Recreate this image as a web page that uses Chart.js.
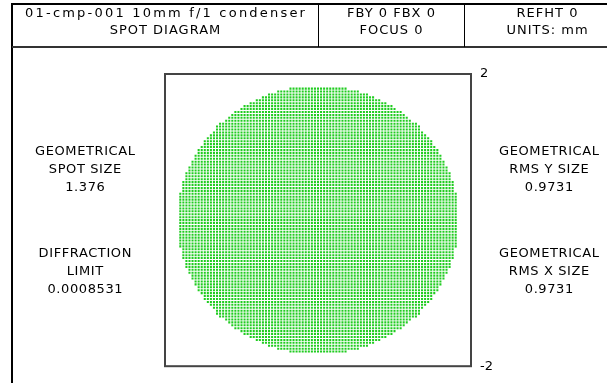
<!DOCTYPE html>
<html>
<head>
<meta charset="utf-8">
<script src="https://cdn.jsdelivr.net/npm/chart.js@4.4.1/dist/chart.umd.min.js"></script>
<style>
  html, body { margin: 0; padding: 0; background: #fff; }
  canvas { display: block; }
</style>
</head>
<body>
<canvas id="spot" width="607" height="383"></canvas>
<script>
// DATA
const headerCells = [
  ['01-cmp-001 10mm f/1 condenser', 'SPOT DIAGRAM'],
  ['FBY 0 FBX 0', 'FOCUS 0'],
  ['REFHT 0', 'UNITS: mm']
];
const leftLabels = [
  ['GEOMETRICAL', 'SPOT SIZE', '1.376'],
  ['DIFFRACTION', 'LIMIT', '0.0008531']
];
const rightLabels = [
  ['GEOMETRICAL', 'RMS Y SIZE', '0.9731'],
  ['GEOMETRICAL', 'RMS X SIZE', '0.9731']
];
const axisRange = [-2, 2];
const yTicks = [-2, 2];
// ray grid: spot edge radius and ray spacing (mm)
const spotRadius = 1.82;
const rayPitch = 0.04;

// rays traced on a square pupil grid, kept inside the spot edge
const spotPoints = [];
const n = Math.round(spotRadius / rayPitch);
for (let i = -n; i <= n; i++) {
  for (let j = -n; j <= n; j++) {
    if (i*i + j*j < n*n) spotPoints.push({x: i*rayPitch, y: j*rayPitch});
  }
}

const FONT = '13px "DejaVu Sans"';

function drawText(ctx, txt, x, y, spacing){
  ctx.letterSpacing = spacing + 'px';
  const w = ctx.measureText(txt).width - spacing;
  ctx.fillText(txt, x - w/2, y);
}

const framePlugin = {
  id: 'frame',
  beforeDraw(chart){
    const c = chart.ctx;
    c.save();
    c.fillStyle = '#fff';
    c.fillRect(0, 0, chart.width, chart.height);

    // header table
    c.strokeStyle = '#000';
    c.lineWidth = 2;
    c.beginPath();
    c.moveTo(11, 4); c.lineTo(607, 4);
    c.moveTo(12, 4); c.lineTo(12, 383);
    c.stroke();
    c.strokeStyle = '#333';
    c.beginPath();
    c.moveTo(12, 47); c.lineTo(607, 47);
    c.stroke();
    c.strokeStyle = '#000';
    c.lineWidth = 1;
    c.beginPath();
    c.moveTo(318.5, 4); c.lineTo(318.5, 47);
    c.moveTo(464.5, 4); c.lineTo(464.5, 47);
    c.stroke();

    c.fillStyle = '#000';
    c.font = FONT;
    c.textBaseline = 'middle';
    const centers = [165, 391, 547];
    headerCells.forEach((cell, k) => {
      drawText(c, cell[0], centers[k], 14, k === 0 ? 2.2 : 1);
      drawText(c, cell[1], centers[k], 31, 1);
    });

    const rows = [[152, 170, 188], [254, 272, 290]];
    leftLabels.forEach((grp, g) => grp.forEach((t, r) => drawText(c, t, 85, rows[g][r], 0.6)));
    rightLabels.forEach((grp, g) => grp.forEach((t, r) => drawText(c, t, 549, rows[g][r], 0.6)));
    c.restore();
  },
  afterDraw(chart){
    const a = chart.chartArea;
    const c = chart.ctx;
    c.save();
    c.strokeStyle = '#444';
    c.lineWidth = 2;
    c.strokeRect(a.left, a.top, a.right - a.left, a.bottom - a.top);
    c.restore();
  }
};

new Chart(document.getElementById('spot'), {
  type: 'scatter',
  data: {
    datasets: [{
      data: spotPoints,
      pointStyle: 'rect',
      pointRadius: 1.45,
      pointBorderWidth: 0,
      backgroundColor: '#20cc20'
    }]
  },
  options: {
    responsive: false,
    animation: false,
    events: [],
    layout: {padding: {left: 165, top: 74, right: 0, bottom: 11}},
    plugins: {legend: {display: false}, tooltip: {enabled: false}},
    scales: {
      x: {type: 'linear', min: axisRange[0], max: axisRange[1], display: false},
      y: {
        type: 'linear', position: 'right', min: axisRange[0], max: axisRange[1],
        grid: {display: false, drawTicks: false},
        border: {display: false},
        afterBuildTicks: s => { s.ticks = yTicks.map(v => ({value: v})); },
        afterFit: s => { s.width = 136; },
        ticks: {
          padding: 9, color: '#000',
          font: {family: 'DejaVu Sans', size: 13},
          callback: v => String(v)
        }
      }
    }
  },
  plugins: [framePlugin]
});
</script>
</body>
</html>
